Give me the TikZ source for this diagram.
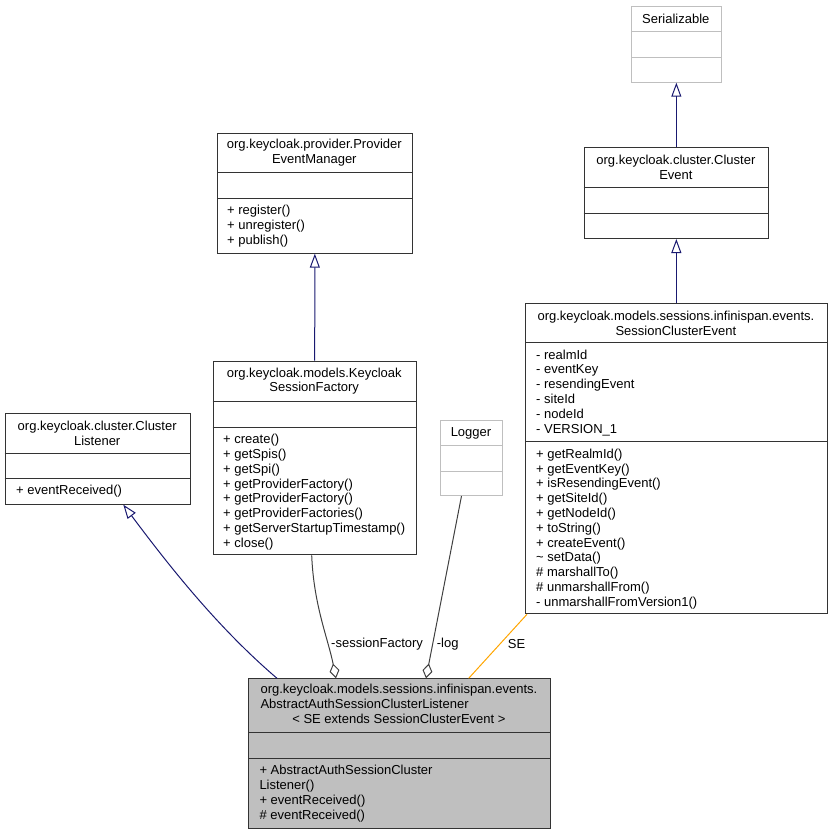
\documentclass[tikz,border=0pt]{standalone}
\usepackage{fontspec}
\setmainfont{Liberation Sans}
\usetikzlibrary{arrows.meta}

\definecolor{edgegray}{HTML}{404040}
\definecolor{boxgray}{HTML}{BFBFBF}
\definecolor{genblue}{HTML}{191970}
\definecolor{tplorange}{HTML}{FFA500}

\tikzset{
    cls/.style={draw=black!80, line width=1pt, fill=white, inner sep=0pt, anchor=north west},
    extcls/.style={cls, draw=boxgray},
    divider/.style={draw=black!80, line width=1pt},
    clstitle/.style={inner sep=0pt, align=center},
    members/.style={inner sep=0pt, align=left, anchor=north west},
    gen/.style={genblue, line width=1pt, -{Triangle[open, length=14pt, width=10pt]}},
    agg/.style={edgegray, line width=1pt, -{Diamond[open, length=15pt, width=10pt]}},
    tpl/.style={tplorange, line width=1pt},
    lbl/.style={inner sep=0pt}
}

\begin{document}
\begin{tikzpicture}[x=1pt, y=-1pt, font=\fontsize{13}{14.8}\selectfont]
        \useasboundingbox (0,0) rectangle (832,833);

        \node[extcls, minimum width=89.7pt, minimum height=76pt] (ser) at (631,5.7) {};
        \draw[divider, boxgray] (631,31.7) -- (720.7,31.7) (631,57) -- (720.7,57);
        \node[clstitle] (sertitle) at (675.8,18.7) {Serializable};

        \node[cls, minimum width=184.3pt, minimum height=91pt] (cev) at (583.7,147) {};
        \draw[divider] (583.7,187.7) -- (768,187.7) (583.7,213) -- (768,213);
        \node[clstitle] (cevtitle) at (675.9,167.3) {org.keycloak.cluster.Cluster\\Event};

        \node[cls, minimum width=301.7pt, minimum height=310pt] (sce) at (525,303.3) {};
        \draw[divider] (525,342.7) -- (826.7,342.7) (525,441.7) -- (826.7,441.7);
        \node[clstitle] (scetitle) at (675.9,323) {org.keycloak.models.sessions.infinispan.events.\\SessionClusterEvent};
        \node[members] (sceattr) at (536,349.5) {- realmId\\- eventKey\\- resendingEvent\\- siteId\\- nodeId\\- VERSION\_1};
        \node[members] (sceops) at (536,448.7) {+ getRealmId()\\+ getEventKey()\\+ isResendingEvent()\\+ getSiteId()\\+ getNodeId()\\+ toString()\\+ createEvent()\\\textasciitilde{} setData()\\\# marshallTo()\\\# unmarshallFrom()\\- unmarshallFromVersion1()};

        \node[cls, minimum width=194.7pt, minimum height=120pt] (pem) at (217,132.7) {};
        \draw[divider] (217,172.3) -- (411.7,172.3) (217,198) -- (411.7,198);
        \node[clstitle] (pemtitle) at (314.3,152.5) {org.keycloak.provider.Provider\\EventManager};
        \node[members] (pemops) at (227,205) {+ register()\\+ unregister()\\+ publish()};

        \node[cls, minimum width=203pt, minimum height=193.6pt] (ksf) at (212.7,360.7) {};
        \draw[divider] (212.7,401.7) -- (415.7,401.7) (212.7,427) -- (415.7,427);
        \node[clstitle] (ksftitle) at (314.2,381.2) {org.keycloak.models.Keycloak\\SessionFactory};
        \node[members] (ksfops) at (223,434) {+ create()\\+ getSpis()\\+ getSpi()\\+ getProviderFactory()\\+ getProviderFactory()\\+ getProviderFactories()\\+ getServerStartupTimestamp()\\+ close()};

        \node[extcls, minimum width=61.4pt, minimum height=74.7pt] (log) at (440.3,420.3) {};
        \draw[divider, boxgray] (440.3,445.7) -- (501.7,445.7) (440.3,471) -- (501.7,471);
        \node[clstitle] (logtitle) at (471,433) {Logger};

        \node[cls, minimum width=185pt, minimum height=91pt] (clis) at (4.7,412.7) {};
        \draw[divider] (4.7,453.3) -- (189.7,453.3) (4.7,478.3) -- (189.7,478.3);
        \node[clstitle] (clistitle) at (97.2,433) {org.keycloak.cluster.Cluster\\Listener};
        \node[members] (clisops) at (16,485) {+ eventReceived()};

        \node[cls, fill=boxgray, minimum width=301.7pt, minimum height=149.4pt] (main) at (248,678.3) {};
        \draw[divider] (248,732.7) -- (549.7,732.7) (248,758) -- (549.7,758);
        \node[clstitle] (maintitle) at (398.9,705.5) {\begin{tabular}{@{}l@{}}org.keycloak.models.sessions.infinispan.events.\\AbstractAuthSessionClusterListener\\\multicolumn{1}{@{}c@{}}{< SE extends SessionClusterEvent >}\end{tabular}};
        \node[members] (mainops) at (259.3,765) {+ AbstractAuthSessionCluster\\Listener()\\+ eventReceived()\\\# eventReceived()};

        \draw[gen] (cev.north) -- (ser.south);
        \draw[gen] (sce.north) -- (cev.south);
        \draw[gen] (ksf.north) -- (pem.south);
        \draw[gen] ([xshift=29pt]main.north west) .. controls +(-62,-53) and +(42,56) .. ([xshift=118.6pt]clis.south west);

        \draw[agg] ([xshift=-3pt]ksf.south) .. controls +(2,50) and +(-8,-40) .. ([xshift=88pt]main.north west);
        \draw[agg] ([xshift=-10pt]log.south) -- ([xshift=178pt]main.north west);
        \draw[tpl] ([xshift=2pt]sce.south west) -- ([xshift=220.7pt]main.north west);

        \node[lbl, anchor=west] (sflbl) at (331,644) {-sessionFactory};
        \node[lbl, anchor=west] (loglbl) at (436.7,644) {-log};
        \node[lbl] (selbl) at (516.5,644) {SE};
    \end{tikzpicture}
\end{document}
